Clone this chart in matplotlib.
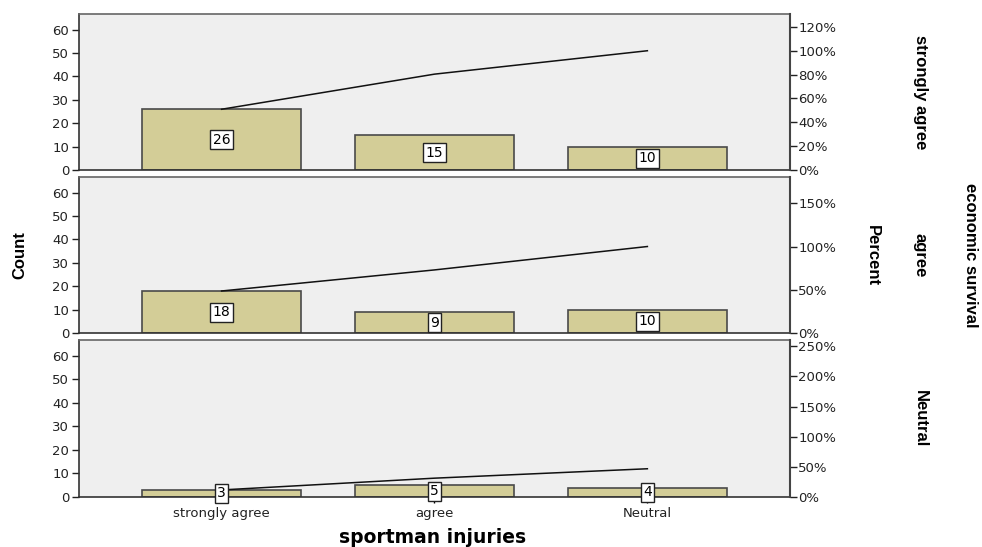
import matplotlib
matplotlib.use("Agg")
import matplotlib.pyplot as plt
from matplotlib.ticker import FuncFormatter, MultipleLocator

# data
categories = ["strongly agree", "agree", "Neutral"]
panels = ["strongly agree", "agree", "Neutral"]
counts_strongly = [26, 15, 10]
counts_agree = [18, 9, 10]
counts_neutral = [3, 5, 4]
# right (percent) axis range and tick step per panel
pct_max = [130.6, 180, 260]
pct_steps = [20, 50, 50]

all_counts = [counts_strongly, counts_agree, counts_neutral]

plt.rcParams['font.family'] = ['DejaVu Sans']
title_font = ['Liberation Sans', 'DejaVu Sans']

fig = plt.figure(figsize=(9.82, 5.47), dpi=100)

left, right = 0.0804, 0.8045
boxes = [(0.689, 0.974), (0.391, 0.676), (0.0914, 0.378)]
ymax = 66.6
bar_color = "#d3cd97"
edge = "#4a4a4a"
x = list(range(len(categories)))

for i, (counts, (b, t)) in enumerate(zip(all_counts, boxes)):
    ax = fig.add_axes([left, b, right - left, t - b])
    ax.set_facecolor("#efefef")
    ax.bar(x, counts, width=0.75, color=bar_color, edgecolor=edge, linewidth=1.2, zorder=2)
    ax.set_xlim(-0.67, 2.67)
    ax.set_ylim(0, ymax)
    ax.yaxis.set_major_locator(MultipleLocator(10))
    ax.tick_params(axis="y", direction="out", length=5, width=1, labelsize=9.5, colors="#222222", pad=2)
    for s in ax.spines.values():
        s.set_color("#666666")
        s.set_linewidth(1.2)
    ax.spines["left"].set_color("#333333")
    ax.spines["bottom"].set_color("#333333")
    if i < 2:
        ax.set_xticks([])
    else:
        ax.set_xticks(x)
        ax.set_xticklabels(categories, fontsize=9.5, color="#222222")
        ax.tick_params(axis="x", length=4, width=1, pad=3)

    # cumulative count line (drawn in count units)
    cum = []
    run = 0
    for c in counts:
        run += c
        cum.append(run)
    ax.plot(x, cum, color="#111111", linewidth=1.1, zorder=4)

    for xi, c in zip(x, counts):
        ax.text(xi, c / 2, str(c), ha="center", va="center", fontsize=10, zorder=5,
                bbox=dict(boxstyle="square,pad=0.18", facecolor="white", edgecolor="#222222", linewidth=1),
                clip_on=False)

    ax2 = ax.twinx()
    ax2.set_ylim(0, pct_max[i])
    ax2.yaxis.set_major_locator(MultipleLocator(pct_steps[i]))
    ax2.yaxis.set_major_formatter(FuncFormatter(lambda v, p: f"{v:.0f}%"))
    ax2.tick_params(axis="y", direction="out", length=5, width=1, labelsize=9.5, colors="#222222", pad=1)
    for s in ax2.spines.values():
        s.set_visible(False)
    ax2.spines["right"].set_visible(True)
    ax2.spines["right"].set_color("#444444")
    ax2.spines["right"].set_linewidth(1.5)

    fig.text(0.937, (b + t) / 2, panels[i], rotation=-90, ha="center", va="center",
             fontsize=12, fontweight="bold", family=title_font)

fig.text(0.02, 0.533, "Count", rotation=90, ha="center", va="center",
         fontsize=12, fontweight="bold", family=title_font)
fig.text(0.888, 0.533, "Percent", rotation=-90, ha="center", va="center",
         fontsize=12, fontweight="bold", family=title_font)
fig.text(0.988, 0.533, "economic survival", rotation=-90, ha="center", va="center",
         fontsize=12, fontweight="bold", family=title_font)
fig.text(0.441, 0.018, "sportman injuries", ha="center", va="center", fontsize=13.5, fontweight="bold")

fig.savefig("out.png", dpi=100)
